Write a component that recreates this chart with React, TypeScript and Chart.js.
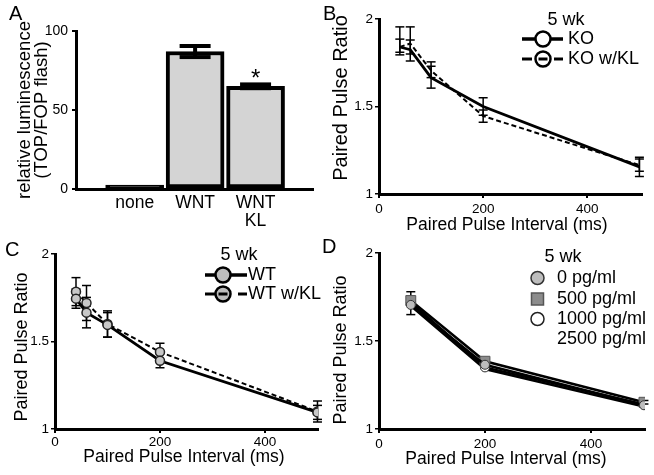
import React, { useEffect, useRef } from 'react';
import { Chart, registerables } from 'chart.js';

Chart.register(...registerables);

const FONT = "'Liberation Sans', Arial, Helvetica, sans-serif";
Chart.defaults.font.family = FONT;
Chart.defaults.color = '#000';

const W = 654;
const H = 475;

// ---------- Panel A (bars) ----------
const barCategories = [['none'], ['WNT'], ['WNT', 'KL']];
const barPositions = [1, 2, 3];
const barValues = [1, 87, 65];
const barErrors = [0, 3.5, 1.2];
const barSignificance = ['', '', '*'];
const luminescenceTicks = [0, 50, 100];

// ---------- shared axes ----------
const intervalTicks = [0, 200, 400];
const ratioTicks = [1, 1.5, 2];

// ---------- Panel B ----------
const intervalsB = [40, 60, 100, 200, 500];
const koRatio = [1.84, 1.825, 1.665, 1.5, 1.155];
const koErrUp = [0.045, 0.055, 0.065, 0.05, 0.045];
const koErrDown = [0.045, 0.065, 0.06, 0.05, 0.055];
const koKlRatio = [1.84, 1.86, 1.705, 1.445, 1.165];
const koKlErrUp = [0.115, 0.095, 0.05, 0.035, 0.045];
const koKlErrDown = [0.03, 0.06, 0.04, 0.035, 0.035];

// ---------- Panel C ----------
const intervalsC = [40, 60, 100, 200, 500];
const wtRatio = [1.745, 1.665, 1.595, 1.39, 1.095];
const wtErr = [0.055, 0.087, 0.07, 0.04, 0.04];
const wtKlRatio = [1.785, 1.72, 1.6, 1.44, 1.1];
const wtKlErr = [0.08, 0.1, 0.075, 0.05, 0.06];

// ---------- Panel D ----------
const intervalsD = [60, 200, 500];
const pg0Ratio = [1.705, 1.365, 1.135];
const pg500Ratio = [1.73, 1.385, 1.152];
const pg500ErrUp = [0.05, 0.015, 0.01];
const pg500ErrDown = [0.08, 0.015, 0.01];
const pg1000Ratio = [1.72, 1.35, 1.14];
const pg2500Ratio = [1.7, 1.34, 1.128];

type Area = { left: number; top: number; right: number; bottom: number };
const areaA: Area = { left: 76, top: 31, right: 313, bottom: 189 };
const areaB: Area = { left: 379, top: 19, right: 642, bottom: 194 };
const areaC: Area = { left: 55, top: 254, right: 318, bottom: 429 };
const areaD: Area = { left: 379, top: 253, right: 645, bottom: 429 };

function fitY(area: Area) {
  return (s: any) => {
    s.width = area.left;
    s.paddingTop = 0; s.paddingBottom = 0; s.paddingLeft = 0; s.paddingRight = 0;
  };
}
function fitX(area: Area) {
  return (s: any) => {
    s.height = H - area.bottom;
    s.paddingTop = 0; s.paddingBottom = 0; s.paddingLeft = 0; s.paddingRight = 0;
  };
}

function drawText(ctx: CanvasRenderingContext2D, str: string, x: number, y: number, size: number,
  opts: { align?: CanvasTextAlign; rot?: number; baseline?: CanvasTextBaseline } = {}) {
  ctx.save();
  ctx.translate(x, y);
  if (opts.rot) ctx.rotate(opts.rot);
  ctx.font = `${size}px ${FONT}`;
  ctx.fillStyle = '#000';
  ctx.textAlign = opts.align || 'center';
  ctx.textBaseline = opts.baseline || 'middle';
  ctx.fillText(str, 0, 0);
  ctx.restore();
}

function seg(ctx: CanvasRenderingContext2D, x1: number, y1: number, x2: number, y2: number) {
  ctx.beginPath();
  ctx.moveTo(x1, y1);
  ctx.lineTo(x2, y2);
  ctx.stroke();
}

function legendSeries(ctx: CanvasRenderingContext2D, x1: number, x2: number, y: number, cx: number,
  dashed: boolean, fill: string, r: number) {
  ctx.save();
  ctx.strokeStyle = '#000';
  ctx.lineCap = 'butt';
  if (!dashed) {
    ctx.lineWidth = 3.5;
    seg(ctx, x1, y, x2, y);
  } else {
    ctx.lineWidth = 3;
    seg(ctx, x1, y, x1 + 10, y);
    seg(ctx, x2 - 9, y, x2, y);
  }
  ctx.beginPath();
  ctx.arc(cx, y, r, 0, Math.PI * 2);
  ctx.fillStyle = fill;
  ctx.fill();
  ctx.lineWidth = 2.5;
  ctx.stroke();
  if (dashed) {
    ctx.lineWidth = 3;
    seg(ctx, cx - r + 3, y, cx + r - 3, y);
  }
  ctx.restore();
}

function legendMarker(ctx: CanvasRenderingContext2D, shape: string, x: number, y: number, fill: string, stroke: string) {
  ctx.save();
  ctx.fillStyle = fill;
  ctx.strokeStyle = stroke;
  ctx.lineWidth = 1.5;
  ctx.beginPath();
  if (shape === 'rect') ctx.rect(x - 6, y - 6, 12, 12);
  else ctx.arc(x, y, 6.5, 0, Math.PI * 2);
  ctx.fill();
  ctx.stroke();
  ctx.restore();
}

const errorBarPlugin = {
  id: 'errorBars',
  beforeDatasetsDraw(chart: any) { drawErrors(chart, false); },
  afterDatasetsDraw(chart: any) { drawErrors(chart, true); },
};

function drawErrors(chart: any, onTop: boolean) {
  const ctx = chart.ctx as CanvasRenderingContext2D;
  const yScale = chart.scales.y;
  chart.data.datasets.forEach((ds: any, di: number) => {
    if (!ds.errUp || !!ds.errOnTop !== onTop) return;
    const meta = chart.getDatasetMeta(di);
    ctx.save();
    ctx.strokeStyle = '#000';
    ctx.lineWidth = ds.errWidth || 1.5;
    ctx.setLineDash([]);
    meta.data.forEach((pt: any, i: number) => {
      const v = ds.data[i].y;
      const up = ds.errUp[i];
      const dn = ds.errDown[i];
      if (!up && !dn) return;
      const top = yScale.getPixelForValue(v + up);
      const bot = yScale.getPixelForValue(v - dn);
      const x = pt.x;
      const c = ds.errCap || 4.5;
      seg(ctx, x, top, x, bot);
      seg(ctx, x - c, top, x + c, top);
      seg(ctx, x - c, bot, x + c, bot);
    });
    ctx.restore();
  });
}

function decor(fn: (ctx: CanvasRenderingContext2D, chart: any) => void) {
  return { id: 'decor', afterDraw(chart: any) { fn(chart.ctx, chart); } };
}

function baseOptions(area: Area) {
  return {
    responsive: false,
    animation: false as const,
    devicePixelRatio: 1,
    events: [] as any[],
    layout: { padding: { left: 0, top: area.top, right: W - area.right, bottom: 0 } },
    plugins: { legend: { display: false }, tooltip: { enabled: false }, title: { display: false } },
  };
}

function lineScales(area: Area, xMax: number, xPad: number) {
  return {
    x: {
      type: 'linear', min: 0, max: xMax,
      afterBuildTicks: (s: any) => { s.ticks = intervalTicks.map((v) => ({ value: v })); },
      afterFit: fitX(area),
      ticks: { color: '#000', font: { family: FONT, size: 13.5 }, padding: xPad, maxRotation: 0, autoSkip: false, callback: (v: any) => String(v) },
      grid: { drawOnChartArea: false, drawTicks: true, tickLength: 4, color: '#000', lineWidth: 2 },
      border: { display: true, color: '#000', width: 3 },
    },
    y: {
      type: 'linear', min: 1, max: 2,
      afterBuildTicks: (s: any) => { s.ticks = ratioTicks.map((v) => ({ value: v })); },
      afterFit: fitY(area),
      ticks: { color: '#000', font: { family: FONT, size: 13.5 }, padding: 2, callback: (v: any) => String(v) },
      grid: { drawOnChartArea: false, drawTicks: true, tickLength: 4, color: '#000', lineWidth: 1.5 },
      border: { display: true, color: '#000', width: 3 },
    },
  };
}

const pts = (xs: number[], ys: number[]) => xs.map((x, i) => ({ x, y: ys[i] }));

function configA() {
  return {
    type: 'bar',
    data: {
      datasets: [{
        data: pts(barPositions, barValues),
        // a bar only a few pixels tall is all border in the reference
        backgroundColor: (c: any) => (c.raw && c.raw.y < 3 ? '#000' : '#d4d4d4'),
        borderColor: '#000',
        borderWidth: 4,
        borderSkipped: false,
        barThickness: 58,
        minBarLength: 4,
        errUp: barErrors, errDown: barErrors, errOnTop: true, errWidth: 4, errCap: 15.5,
      }],
    },
    options: {
      ...baseOptions(areaA),
      scales: {
        x: {
          type: 'linear', min: 0.03, max: 3.95, offset: false,
          afterBuildTicks: (s: any) => { s.ticks = barPositions.map((v) => ({ value: v })); },
          afterFit: fitX(areaA),
          ticks: { color: '#000', font: { family: FONT, size: 17.5, lineHeight: 1 }, padding: 5.5, maxRotation: 0, autoSkip: false,
            callback: (_v: any, i: number) => barCategories[i] },
          grid: { display: false, drawTicks: false, tickLength: 0, offset: false },
          border: { display: true, color: '#000', width: 3 },
        },
        y: {
          type: 'linear', min: 0, max: 100,
          afterBuildTicks: (s: any) => { s.ticks = luminescenceTicks.map((v) => ({ value: v })); },
          afterFit: fitY(areaA),
          ticks: { color: '#000', font: { family: FONT, size: 14 }, padding: 4, callback: (v: any) => String(v) },
          grid: { drawOnChartArea: false, drawTicks: true, tickLength: 4, color: '#000', lineWidth: 2 },
          border: { display: true, color: '#000', width: 3 },
        },
      },
    },
    plugins: [errorBarPlugin, decor((ctx, chart) => {
      drawText(ctx, 'A', 9, 14, 20, { align: 'left' });
      drawText(ctx, 'relative luminescence', 25, 110, 18.5, { rot: -Math.PI / 2 });
      drawText(ctx, '(TOP/FOP flash)', 42, 110, 18.5, { rot: -Math.PI / 2 });
      barSignificance.forEach((s, i) => {
        if (!s) return;
        const x = chart.scales.x.getPixelForValue(barPositions[i]);
        const y = chart.scales.y.getPixelForValue(barValues[i] + barErrors[i]);
        drawText(ctx, s, x, y + 2, 24, { baseline: 'alphabetic' });
      });
    })],
  };
}

function configB() {
  return {
    type: 'line',
    data: {
      datasets: [
        { label: 'KO', data: pts(intervalsB, koRatio), borderColor: '#000', borderWidth: 2.8, pointRadius: 0, tension: 0, fill: false,
          errUp: koErrUp, errDown: koErrDown },
        { label: 'KO w/KL', data: pts(intervalsB, koKlRatio), borderColor: '#000', borderWidth: 2, borderDash: [5, 3], pointRadius: 0, tension: 0, fill: false,
          errUp: koKlErrUp, errDown: koKlErrDown },
      ],
    },
    options: { ...baseOptions(areaB), scales: lineScales(areaB, 505, 3.4) },
    plugins: [errorBarPlugin, decor((ctx) => {
      drawText(ctx, 'B', 323, 14, 20, { align: 'left' });
      drawText(ctx, 'Paired Pulse Ratio', 341, 98, 20, { rot: -Math.PI / 2 });
      drawText(ctx, 'Paired Pulse Interval (ms)', 507, 225.5, 17.5);
      drawText(ctx, '5 wk', 566, 20, 18);
      legendSeries(ctx, 522, 563, 39, 543, false, '#fff', 7.5);
      drawText(ctx, 'KO', 568, 39, 18, { align: 'left' });
      legendSeries(ctx, 522, 563, 59, 543, true, '#fff', 7.5);
      drawText(ctx, 'KO w/KL', 568, 59, 18, { align: 'left' });
    })],
  };
}

function configC() {
  const marker = { pointRadius: 4.5, pointBackgroundColor: '#c8c8c8', pointBorderColor: '#222', pointBorderWidth: 1.5 };
  return {
    type: 'line',
    data: {
      datasets: [
        { label: 'WT', data: pts(intervalsC, wtRatio), borderColor: '#000', borderWidth: 2.8, tension: 0, fill: false, ...marker,
          errUp: wtErr, errDown: wtErr },
        { label: 'WT w/KL', data: pts(intervalsC, wtKlRatio), borderColor: '#000', borderWidth: 2, borderDash: [5, 3], tension: 0, fill: false, ...marker,
          errUp: wtKlErr, errDown: wtKlErr },
      ],
    },
    options: { ...baseOptions(areaC), scales: lineScales(areaC, 501, 1) },
    plugins: [errorBarPlugin, decor((ctx) => {
      drawText(ctx, 'C', 5, 250.5, 20, { align: 'left' });
      drawText(ctx, 'Paired Pulse Ratio', 22, 347, 18, { rot: -Math.PI / 2 });
      drawText(ctx, 'Paired Pulse Interval (ms)', 184, 457, 17.5);
      drawText(ctx, '5 wk', 239, 255, 18);
      legendSeries(ctx, 205, 247, 275, 223, false, '#bdbdbd', 7.5);
      drawText(ctx, 'WT', 248, 275, 18, { align: 'left' });
      legendSeries(ctx, 205, 247, 294, 223, true, '#bdbdbd', 7.5);
      drawText(ctx, 'WT w/KL', 248, 294, 18, { align: 'left' });
    })],
  };
}

function configD() {
  return {
    type: 'line',
    data: {
      datasets: [
        { label: '0 pg/ml', data: pts(intervalsD, pg0Ratio), borderColor: '#000', borderWidth: 2.5, tension: 0, fill: false,
          pointRadius: 4.5, pointBackgroundColor: '#bdbdbd', pointBorderColor: '#333', pointBorderWidth: 1 },
        { label: '500 pg/ml', data: pts(intervalsD, pg500Ratio), borderColor: '#000', borderWidth: 2.5, tension: 0, fill: false,
          pointStyle: 'rect', pointRadius: 7, pointBackgroundColor: '#8c8c8c', pointBorderColor: '#555', pointBorderWidth: 1,
          errUp: pg500ErrUp, errDown: pg500ErrDown },
        { label: '1000 pg/ml', data: pts(intervalsD, pg1000Ratio), borderColor: '#000', borderWidth: 2.5, tension: 0, fill: false,
          pointRadius: 4.5, pointBackgroundColor: '#fff', pointBorderColor: '#222', pointBorderWidth: 1 },
        { label: '2500 pg/ml', data: pts(intervalsD, pg2500Ratio), borderColor: '#000', borderWidth: 2.5, tension: 0, fill: false,
          pointRadius: 0 },
      ],
    },
    options: { ...baseOptions(areaD), scales: lineScales(areaD, 502, 3) },
    plugins: [errorBarPlugin, decor((ctx) => {
      drawText(ctx, 'D', 322, 247, 20, { align: 'left' });
      drawText(ctx, 'Paired Pulse Ratio', 341, 350, 18, { rot: -Math.PI / 2 });
      drawText(ctx, 'Paired Pulse Interval (ms)', 506, 459, 17.5);
      drawText(ctx, '5 wk', 563, 257, 18);
      legendMarker(ctx, 'circle', 537.5, 278, '#bdbdbd', '#333');
      drawText(ctx, '0 pg/ml', 557, 278, 18, { align: 'left' });
      legendMarker(ctx, 'rect', 537.5, 299, '#8c8c8c', '#555');
      drawText(ctx, '500 pg/ml', 557, 299, 18, { align: 'left' });
      legendMarker(ctx, 'circle', 537.5, 319, '#fff', '#222');
      drawText(ctx, '1000 pg/ml', 557, 319, 18, { align: 'left' });
      drawText(ctx, '2500 pg/ml', 557, 339, 18, { align: 'left' });
    })],
  };
}

function ChartCanvas({ make }: { make: () => any }) {
  const ref = useRef<HTMLCanvasElement>(null);
  useEffect(() => {
    if (!ref.current) return;
    const chart = new Chart(ref.current, make());
    return () => chart.destroy();
  }, []);
  return (
    <canvas ref={ref} width={W} height={H}
      style={{ position: 'absolute', left: 0, top: 0, width: W, height: H }} />
  );
}

export default function App() {
  return (
    <div style={{ position: 'fixed', left: 0, top: 0, width: W, height: H, background: '#fff', overflow: 'hidden' }}>
      <ChartCanvas make={configA} />
      <ChartCanvas make={configB} />
      <ChartCanvas make={configC} />
      <ChartCanvas make={configD} />
    </div>
  );
}
